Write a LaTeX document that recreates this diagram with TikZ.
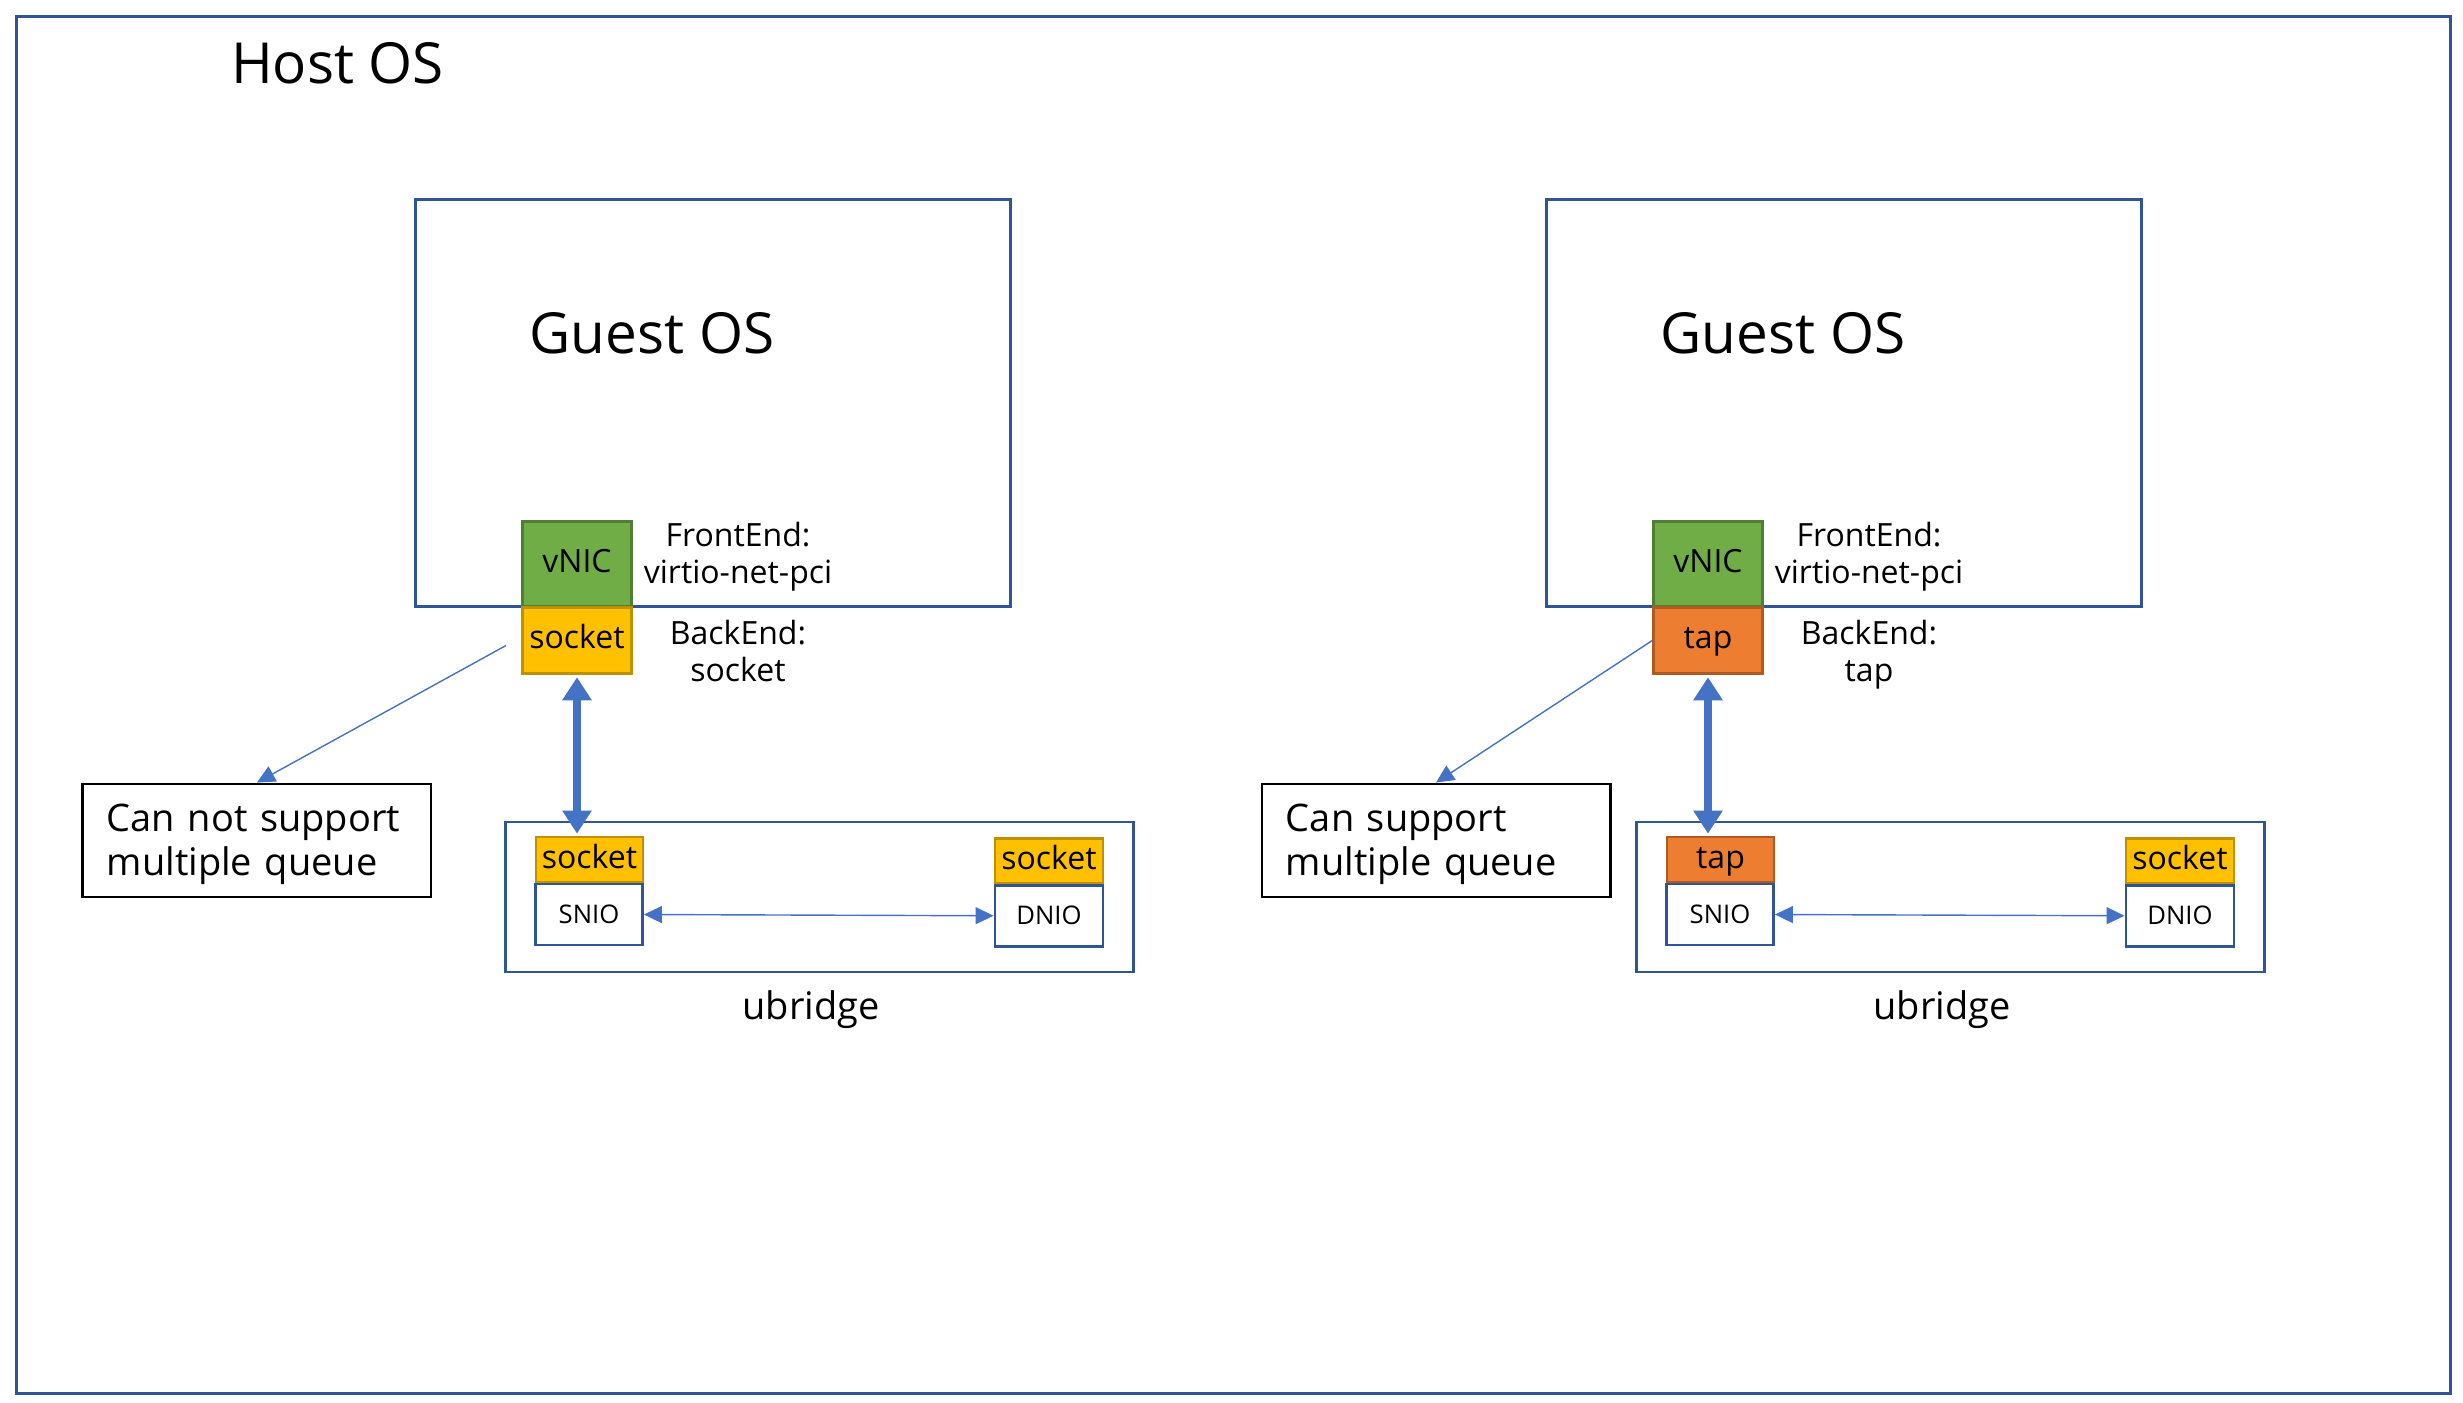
\documentclass[tikz,border=0pt]{standalone}
\usepackage{fontspec}
\setmainfont{Open Sans}
\usetikzlibrary{arrows.meta}
\definecolor{frameblue}{HTML}{2F5597}
\definecolor{arrowblue}{HTML}{4472C4}
\definecolor{nicgreen}{HTML}{70AD47}
\definecolor{nicline}{HTML}{507E32}
\definecolor{sockfill}{HTML}{FFC000}
\definecolor{sockline}{HTML}{BF9000}
\definecolor{tapfill}{HTML}{ED7D31}
\definecolor{tapline}{HTML}{AE5A21}
\begin{document}
\begin{tikzpicture}[x=0.01cm, y=-0.01cm,
    frame/.style={draw=frameblue, line width=0.8pt, inner sep=0pt},
    big/.style={font=\fontsize{16.1}{19}\selectfont, inner sep=0pt, anchor=base},
    mid/.style={font=\fontsize{10.8}{12.5}\selectfont, inner sep=0pt, anchor=base},
    lbl/.style={font=\fontsize{9.1}{10.5}\selectfont, inner sep=0pt, anchor=base, align=center},
    chip/.style={line width=0.8pt, inner sep=0pt, minimum width=1.09cm, text height=0.72em, text depth=0.25em, font=\fontsize{9.1}{10.5}\selectfont},
    vnic/.style={chip, fill=nicgreen, draw=nicline, minimum height=0.845cm},
    sockbox/.style={chip, fill=sockfill, draw=sockline},
    tapbox/.style={chip, fill=tapfill, draw=tapline},
    io/.style={frame, fill=white, minimum width=1.07cm, minimum height=0.61cm, font=\fontsize{7.3}{9}\selectfont},
    note/.style={draw=black, line width=0.8pt, minimum height=1.13cm, text width=3.0cm, inner xsep=0.24cm, align=left, font=\fontsize{10.8}{12.5}\selectfont},
    fat/.style={arrowblue, line width=0.085cm, <->, >={Triangle[width=2.8mm,length=2.3mm]}, shorten <=0.02cm, shorten >=0.02cm},
    thin/.style={arrowblue, line width=0.4pt, >={Triangle[width=1.7mm,length=1.8mm]}}
  ]
  \useasboundingbox (0,0) rectangle (2463,1402);
  \node[frame, minimum width=24.33cm, minimum height=13.76cm] (host) at (1233.5,705) {};
  \node[big] (hostlbl) at (337.5,83) {Host OS};

  % socket backend
  \node[frame, minimum width=5.94cm, minimum height=4.065cm] (guestL) at (713,402.75) {};
  \node[big] (guestlblL) at (652,353) {Guest OS};
  \node[vnic] (vnicL) at (577,563.75) {vNIC};
  \node[sockbox, minimum height=0.666cm] (backL) at (577,640.5) {socket};
  \node[lbl] (frontlblL) at (738,583) {FrontEnd:\\virtio-net-pci};
  \node[lbl] (backlblL) at (738,681) {BackEnd:\\socket};
  \node[frame, minimum width=6.27cm, minimum height=1.5cm] (ubrL) at (819.5,897) {};
  \node[sockbox, minimum width=1.07cm, minimum height=0.455cm] (usockL) at (589.5,859.75) {socket};
  \node[io] (snioL) at (589,914.5) {SNIO};
  \node[sockbox, minimum width=1.08cm, minimum height=0.445cm] (dsockL) at (1049,860.75) {socket};
  \node[io, minimum width=1.08cm] (dnioL) at (1049,915.75) {DNIO};
  \node[mid] (ubrlblL) at (811,1019) {ubridge};
  \node[note, text height=1.9ex] (noteL) at (256.9,840.5) {Can not support\\multiple queue};
  \coordinate (tailL) at (506,645.5);
  \draw[fat] (backL.south) -- (backL.south |- usockL.north);
  \draw[thin, <->] (snioL.east) -- (dnioL.west);
  \draw[thin, ->] (tailL) -- (noteL.north);

  % tap backend
  \node[frame, minimum width=5.94cm, minimum height=4.065cm] (guestR) at (1844,402.75) {};
  \node[big] (guestlblR) at (1783,353) {Guest OS};
  \node[vnic] (vnicR) at (1708,563.75) {vNIC};
  \node[tapbox, minimum height=0.666cm] (backR) at (1708,640.5) {tap};
  \node[lbl] (frontlblR) at (1869,583) {FrontEnd:\\virtio-net-pci};
  \node[lbl] (backlblR) at (1869,681) {BackEnd:\\tap};
  \node[frame, minimum width=6.27cm, minimum height=1.5cm] (ubrR) at (1950.5,897) {};
  \node[tapbox, minimum width=1.07cm, minimum height=0.455cm] (usockR) at (1720.5,859.75) {tap};
  \node[io] (snioR) at (1720,914.5) {SNIO};
  \node[sockbox, minimum width=1.08cm, minimum height=0.445cm] (dsockR) at (2180,860.75) {socket};
  \node[io, minimum width=1.08cm] (dnioR) at (2180,915.75) {DNIO};
  \node[mid] (ubrlblR) at (1942,1019) {ubridge};
  \node[note, text height=1.9ex] (noteR) at (1436,840.5) {Can support\\multiple queue};
  \coordinate (tailR) at (1653,640);
  \draw[fat] (backR.south) -- (backR.south |- usockR.north);
  \draw[thin, <->] (snioR.east) -- (dnioR.west);
  \draw[thin, ->] (tailR) -- (noteR.north);
\end{tikzpicture}
\end{document}
